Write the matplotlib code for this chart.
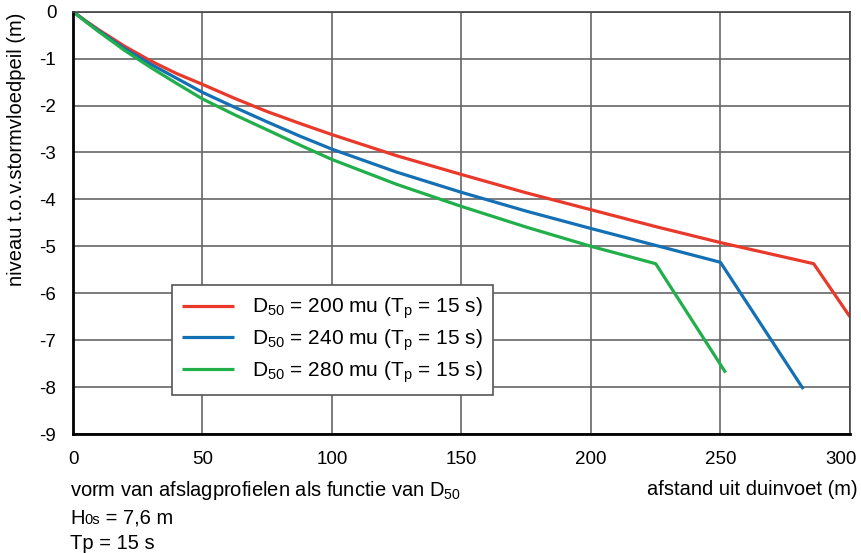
import matplotlib
matplotlib.use("Agg")
import matplotlib.pyplot as plt
import matplotlib.transforms as mtransforms

plt.rcParams['font.family'] = ['Liberation Sans', 'DejaVu Sans']
plt.rcParams['mathtext.default'] = 'regular'

# afslagprofielen (afstand uit duinvoet in m, niveau in m)
x_200 = [0, 5, 10, 20, 30, 40, 50, 62.5, 75, 87.5, 100, 125, 150, 175, 200, 225, 250, 286, 300]
y_200 = [0, -0.20, -0.39, -0.74, -1.05, -1.32, -1.55, -1.85, -2.13, -2.38, -2.62,
         -3.07, -3.47, -3.86, -4.22, -4.58, -4.92, -5.37, -6.50]

x_240 = [0, 5, 10, 20, 30, 40, 50, 62.5, 75, 87.5, 100, 125, 150, 175, 200, 225, 250, 282]
y_240 = [0, -0.21, -0.41, -0.79, -1.12, -1.42, -1.72, -2.04, -2.35, -2.65, -2.93,
         -3.42, -3.85, -4.25, -4.62, -4.98, -5.34, -8.04]

x_280 = [0, 5, 10, 20, 30, 40, 50, 62.5, 75, 87.5, 100, 125, 150, 175, 200, 225, 252]
y_280 = [0, -0.22, -0.43, -0.83, -1.19, -1.53, -1.86, -2.20, -2.52, -2.84, -3.15,
         -3.68, -4.15, -4.59, -5.00, -5.37, -7.69]

labels = [r'D$_{50}$ = 200 mu (T$_{p}$ = 15 s)',
          r'D$_{50}$ = 240 mu (T$_{p}$ = 15 s)',
          r'D$_{50}$ = 280 mu (T$_{p}$ = 15 s)']
colors = ['#e8392a', '#1470b5', '#20af4a']

xticks = [0, 50, 100, 150, 200, 250, 300]
yticks = [0, -1, -2, -3, -4, -5, -6, -7, -8, -9]

fig = plt.figure(figsize=(8.62, 5.53), dpi=100)
ax = fig.add_axes([0.0847, 0.215, 0.9013, 0.764])

for xs, ys, lab, c in zip([x_200, x_240, x_280], [y_200, y_240, y_280], labels, colors):
    ax.plot(xs, ys, color=c, lw=2.3, label=lab, solid_capstyle='butt',
            solid_joinstyle='round')

ax.set_xlim(0, 300)
ax.set_ylim(-9, 0)
ax.set_xticks(xticks)
ax.set_yticks(yticks)
ax.set_yticklabels([str(t) for t in yticks])
ax.tick_params(length=0, labelsize=13.5)
ax.tick_params(axis='y', pad=12)
ax.tick_params(axis='x', pad=12)
ax.grid(True, color='#666666', lw=1.2)
ax.set_axisbelow(True)

# laatste label iets naar links, zoals in het origineel
lab300 = ax.get_xticklabels()[-1]
lab300.set_transform(lab300.get_transform() + mtransforms.ScaledTranslation(-9 / 100, 0, fig.dpi_scale_trans))

for side in ['left', 'bottom']:
    ax.spines[side].set_color('black')
    ax.spines[side].set_linewidth(2)
for side in ['top', 'right']:
    ax.spines[side].set_color('#444444')
    ax.spines[side].set_linewidth(1.2)

leg = ax.legend(loc='upper left', bbox_to_anchor=(0.127, 0.352), fontsize=15,
                handlelength=2.5, handletextpad=0.85, frameon=True, fancybox=False,
                borderpad=0.5, labelspacing=0.3, borderaxespad=0)
leg.get_frame().set_edgecolor('#555555')
leg.get_frame().set_linewidth(1.2)
leg.get_frame().set_alpha(1)

fs = 14.5
fig.text(17 / 862, 1 - 149 / 553, 'niveau t.o.v.stormvloedpeil (m)', rotation=90,
         ha='center', va='center', fontsize=fs)
fig.text(70 / 862, 1 - 496 / 553, r'vorm van afslagprofielen als functie van D$_{50}$',
         ha='left', va='baseline', fontsize=fs)
fig.text(858 / 862, 1 - 495 / 553, 'afstand uit duinvoet (m)',
         ha='right', va='baseline', fontsize=fs)

h = fig.text(70 / 862, 1 - 524 / 553, 'H', ha='left', va='baseline', fontsize=fs)
fig.canvas.draw()
hw = h.get_window_extent().width
sub = fig.text((70 + hw) / 862, 1 - 524 / 553, '0s', ha='left', va='baseline', fontsize=10.5)
fig.canvas.draw()
sw = sub.get_window_extent().width
fig.text((70 + hw + sw) / 862, 1 - 524 / 553, ' = 7,6 m', ha='left', va='baseline', fontsize=fs)
fig.text(70 / 862, 1 - 549 / 553, 'Tp = 15 s', ha='left', va='baseline', fontsize=fs)

fig.savefig('out.png', dpi=100)
